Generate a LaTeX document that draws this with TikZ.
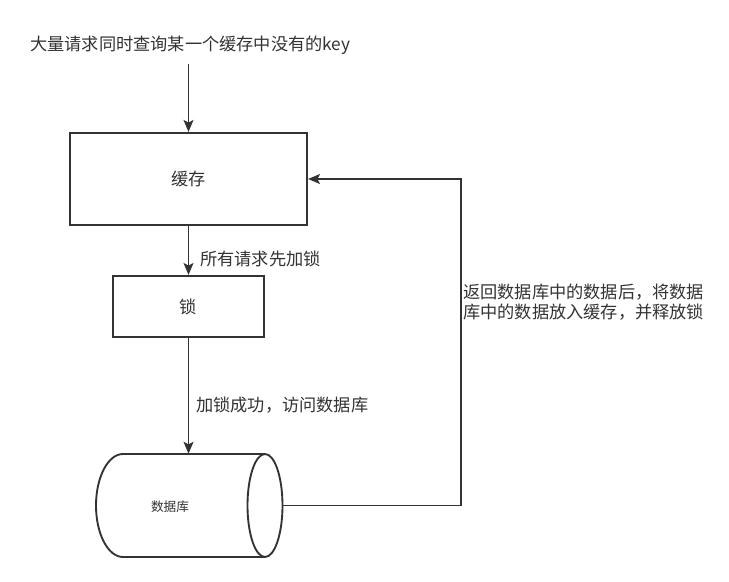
\documentclass[tikz,border=0pt]{standalone}
\usepackage{fontspec}
\setmainfont{Noto Sans CJK SC}
\usetikzlibrary{arrows.meta}
\definecolor{ink}{HTML}{333333}
\begin{document}
\begin{tikzpicture}[x=0.75pt,y=-0.75pt,
  box/.style={draw=ink,line width=1.6pt,rectangle,inner sep=0pt,text=ink,font=\fontsize{12.9}{15}\selectfont},
  lbl/.style={inner sep=0pt,text=ink,font=\fontsize{12.9}{15}\selectfont,anchor=west,align=left},
  conn/.style={draw=ink,line width=1.2pt,-{Stealth[length=9pt,width=7.5pt,inset=2pt]}}]
\useasboundingbox[fill=white] (0,0) rectangle (729,582);
% nodes
\node[lbl] (q) at (30,45) {大量请求同时查询某一个缓存中没有的key};
\node[box,minimum width=177.75pt,minimum height=69pt] (cache) at (188.5,179) {缓存};
\node[box,minimum width=113.25pt,minimum height=45.75pt] (lock) at (188.5,306.5) {锁};
\node[inner sep=0pt,minimum width=139.5pt,minimum height=77.25pt] (db) at (189,505.5) {};
% cylinder
\draw[draw=ink,line width=1.4pt,fill=white]
  (265,454) -- (123,454) arc[start angle=-90,end angle=-270,x radius=27,y radius=51.5] -- (265,557);
\draw[draw=ink,line width=1.4pt,fill=white] (265,505.5) ellipse[x radius=17.5,y radius=51.5];
\node[inner sep=0pt,text=ink,font=\fontsize{9.5}{11}\selectfont] (dbt) at (170,507) {数据库};
% labels
\node[lbl] (l1) at (200,259) {所有请求先加锁};
\node[lbl] (l2) at (196,405) {加锁成功，访问数据库};
\node[lbl] (l3) at (463,302) {返回数据库中的数据后，将数据\\库中的数据放入缓存，并释放锁};
% connectors
\coordinate (s) at (188.5,64);
\coordinate (r) at (461,0);
\draw[conn] (s) -- (cache.north);
\draw[conn] (cache.south) -- (lock.north);
\draw[conn] (lock.south) -- (lock.south |- db.north);
\draw[conn] (db.east) -| (r |- cache.east) -- (cache.east);
\end{tikzpicture}
\end{document}
